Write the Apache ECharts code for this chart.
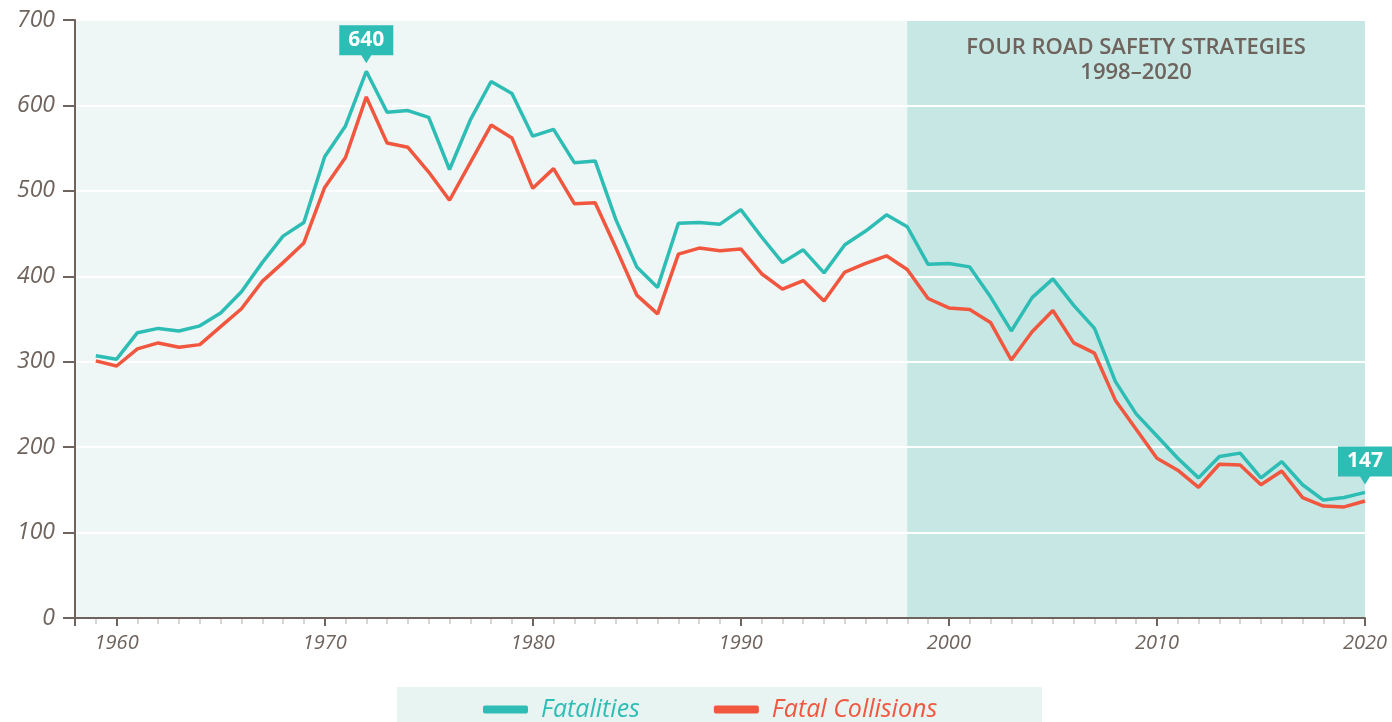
<!DOCTYPE html>
<html>
<head>
<meta charset="utf-8">
<script src="https://cdn.jsdelivr.net/npm/echarts@6/dist/echarts.min.js"></script>
<style>
  html, body { margin: 0; padding: 0; background: #fff; }
  #chart { width: 1392px; height: 722px; }
</style>
</head>
<body>
<div id="chart"></div>
<script>
// yearly values
const years = [1959, 1960, 1961, 1962, 1963, 1964, 1965, 1966, 1967, 1968, 1969,
  1970, 1971, 1972, 1973, 1974, 1975, 1976, 1977, 1978, 1979,
  1980, 1981, 1982, 1983, 1984, 1985, 1986, 1987, 1988, 1989,
  1990, 1991, 1992, 1993, 1994, 1995, 1996, 1997, 1998, 1999,
  2000, 2001, 2002, 2003, 2004, 2005, 2006, 2007, 2008, 2009,
  2010, 2011, 2012, 2013, 2014, 2015, 2016, 2017, 2018, 2019, 2020]
const fatalities = [307, 303, 334, 339, 336, 342, 357, 382, 416, 447, 463,
  540, 576, 640, 592, 594, 586, 525, 583, 628, 614,
  564, 572, 533, 535, 466, 411, 387, 462, 463, 461,
  478, 446, 416, 431, 404, 437, 453, 472, 458, 414,
  415, 411, 376, 336, 375, 397, 366, 339, 277, 239,
  213, 187, 164, 189, 193, 164, 183, 156, 138, 141, 147]
const collisions = [301, 295, 315, 322, 317, 320, 341, 362, 394, 416, 439,
  504, 539, 610, 556, 551, 522, 489, 533, 577, 562,
  503, 526, 485, 486, 433, 378, 356, 426, 433, 430,
  432, 403, 385, 395, 371, 405, 415, 424, 408, 374,
  363, 361, 346, 302, 335, 360, 322, 310, 255, 221,
  187, 173, 153, 180, 179, 156, 172, 141, 131, 130, 137]
const decadeTicks = [1958, 1960, 1970, 1980, 1990, 2000, 2010, 2020]
const decadeLabels = [1960, 1970, 1980, 1990, 2000, 2010, 2020]
const callouts = [1972, 2020]
const strategyYears = [1998, 2020]
const strategyText = 'FOUR ROAD SAFETY STRATEGIES\n1998–2020'

const TEAL = '#2ebdb5'
const RED = '#f1563f'
const INK = '#6e635d'
const FONT = '"Open Sans", sans-serif'

const chart = echarts.init(document.getElementById('chart'))

const pairs = (vals) => years.map((y, i) => [y, vals[i]])

const option = {
  animation: false,
  graphic: [{
    type: 'rect',
    left: 397, top: 687,
    shape: { width: 645, height: 35 },
    style: { fill: '#e7f4f1' },
    z: -1
  }],
  grid: {
    left: 75, right: 27, top: 20, bottom: 104,
    show: true, backgroundColor: '#eef7f5', borderWidth: 0
  },
  legend: {
    data: [
      { name: 'Fatalities', textStyle: { color: TEAL } },
      { name: 'Fatal Collisions', textStyle: { color: RED } }
    ],
    left: 478, top: 692,
    icon: 'roundRect',
    itemWidth: 45, itemHeight: 8,
    itemGap: 74,
    textStyle: { fontFamily: FONT, fontStyle: 'italic', fontSize: 25, padding: [0, 0, 0, 8] }
  },
  xAxis: [{
    type: 'value', min: 1958, max: 2020, z: 2,
    axisLine: { show: true, lineStyle: { color: INK, width: 2 } },
    axisTick: { show: true, customValues: decadeTicks, length: 8, lineStyle: { color: INK, width: 2 } },
    axisLabel: {
      customValues: decadeLabels, color: INK, fontFamily: FONT,
      fontStyle: 'italic', fontSize: 20, margin: 15,
      formatter: (v) => String(v)
    },
    splitLine: { show: false }
  }, {
    type: 'value', min: 1958, max: 2020, position: 'bottom', z: 1,
    axisLine: { show: false },
    axisTick: { show: true, customValues: years, length: 6, lineStyle: { color: '#cdc7c3', width: 1.5 } },
    axisLabel: { show: false },
    splitLine: { show: false }
  }],
  yAxis: {
    type: 'value', min: 0, max: 700, interval: 100, z: 2,
    axisLine: { show: true, lineStyle: { color: INK, width: 2 } },
    axisTick: { show: true, length: 12, lineStyle: { color: INK, width: 2 } },
    axisLabel: { color: INK, fontFamily: FONT, fontStyle: 'italic', fontSize: 23, margin: 20 },
    splitLine: { show: true, lineStyle: { color: '#ffffff', width: 2 } }
  },
  series: [{
    name: 'band', type: 'line', data: [], z: 1, silent: true,
    markArea: {
      silent: true,
      itemStyle: { color: '#c6e7e3' },
      label: {
        show: true, position: 'insideTop', distance: 15,
        color: INK, fontFamily: FONT, fontWeight: 600, fontSize: 22, lineHeight: 25,
        align: 'center'
      },
      data: [[{ name: strategyText, xAxis: strategyYears[0] }, { xAxis: strategyYears[1] }]]
    }
  }, {
    name: 'Fatalities', type: 'line', z: 3,
    data: pairs(fatalities),
    showSymbol: false, symbol: 'none',
    lineStyle: { color: TEAL, width: 3.5 },
    itemStyle: { color: TEAL },
    markPoint: {
      symbol: 'path://M0,0 H54 V30 H32 L27,38 L22,30 H0 Z',
      symbolSize: [54, 38],
      symbolOffset: [0, -27],
      itemStyle: { color: TEAL },
      label: {
        show: true, position: 'inside', offset: [0, -4],
        color: '#fff', fontFamily: FONT, fontWeight: 'bold', fontSize: 21
      },
      data: callouts.map(y => {
        const v = fatalities[years.indexOf(y)]
        return { coord: [y, v], value: v }
      })
    }
  }, {
    name: 'Fatal Collisions', type: 'line', z: 3,
    data: pairs(collisions),
    showSymbol: false, symbol: 'none',
    lineStyle: { color: RED, width: 3.5 },
    itemStyle: { color: RED }
  }]
}

chart.setOption(option)
</script>
</body>
</html>
